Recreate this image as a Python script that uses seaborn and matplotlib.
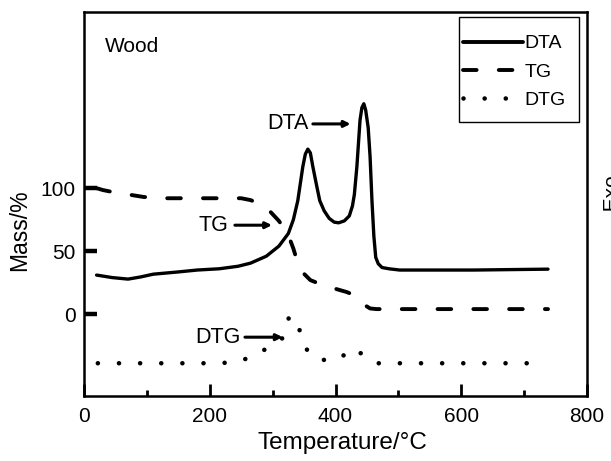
import matplotlib
matplotlib.use("Agg")
import matplotlib.pyplot as plt
import seaborn as sns
import pandas as pd
from matplotlib.lines import Line2D
from matplotlib.patches import Rectangle

# ---- data ----
DTA_T = [20, 45, 70, 90, 110, 150, 180, 215, 245, 265, 290, 310, 325, 333, 340,
         348, 352, 356, 360, 364, 370, 375, 382, 390, 398, 405, 414, 422, 427, 430,
         434, 439, 442, 445, 448, 452, 455, 458, 461, 464, 468, 474, 485, 502, 550,
         620, 738]
DTA_V = [31, 29, 27.8, 29.5, 31.7, 33.5, 35, 36, 38, 40.5, 46, 54, 64, 75, 90,
         117, 127, 131, 128, 117, 102, 90, 82, 76, 73, 72.5, 74, 78, 86, 95,
         117, 154, 164, 167, 162, 148, 125, 90, 62, 45, 40, 37, 36, 35, 35,
         35, 35.7]

TG_T = [20, 30, 45, 70, 95, 125, 150, 180, 232, 250, 265, 280, 295, 310, 324,
        333, 340, 350, 360, 375, 391, 418, 430, 440, 447, 455, 465, 738]
TG_V = [100, 98.5, 97, 95, 93, 92, 92, 92, 92, 92, 90.5, 87.5, 82, 74, 64,
        52, 40.5, 32, 27, 24, 21.4, 17.5, 15, 11, 7, 4.5, 4, 4]

DTG_T = [22, 60, 100, 150, 184, 219, 253, 286, 316, 322, 326, 333, 339, 347, 358,
         369, 385, 402, 415, 428, 440, 452, 464, 500, 600, 720]
DTG_V = [-39, -39, -39, -39, -39, -39, -36.5, -28.6, -19, -10, -2.4, -3, -4, -22, -31,
         -35.7, -36.5, -36.5, -32, -27, -31, -35, -39, -39, -39, -39]

X_TICKS = [0, 200, 400, 600, 800]
X_MINOR = [100, 300, 500, 700]
Y_TICKS = [0, 50, 100]

sns.set_theme(style="white")
plt.rcParams["font.family"] = ["Liberation Sans", "DejaVu Sans"]
plt.rcParams["text.color"] = "black"
plt.rcParams["axes.labelcolor"] = "black"
plt.rcParams["xtick.color"] = "black"
plt.rcParams["ytick.color"] = "black"

fig = plt.figure(figsize=(6.11, 4.61), dpi=100)
ax = fig.add_axes([0.1375, 0.141, 0.8232, 0.832])

df_dta = pd.DataFrame({"T": DTA_T, "v": DTA_V})
df_tg = pd.DataFrame({"T": TG_T, "v": TG_V})
df_dtg = pd.DataFrame({"T": DTG_T, "v": DTG_V})

TG_LS = (0, (3.5, 5.7))
DTG_LS = (0, (0.01, 4.6))

sns.lineplot(data=df_dta, x="T", y="v", ax=ax, color="black", lw=2.4,
             sort=False, solid_capstyle="round")
sns.lineplot(data=df_tg, x="T", y="v", ax=ax, color="black", lw=2.8,
             sort=False, linestyle=TG_LS, dash_capstyle="round")
sns.lineplot(data=df_dtg, x="T", y="v", ax=ax, color="black", lw=3.3,
             sort=False, linestyle=DTG_LS, dash_capstyle="round")

ax.set_xlim(0, 800)
ax.set_ylim(-65, 239.5)
ax.set_xticks(X_TICKS)
ax.set_xticks(X_MINOR, minor=True)
ax.set_yticks(Y_TICKS)
ax.tick_params(axis="x", which="major", direction="in", length=8.5, width=2,
               labelsize=15, pad=8, bottom=True)
ax.tick_params(axis="x", which="minor", direction="in", length=4.5, width=2,
               bottom=True)
ax.tick_params(axis="y", which="major", direction="in", length=9.5, width=3.2,
               labelsize=15, pad=6, left=True)
for s in ax.spines.values():
    s.set_linewidth(1.8)
    s.set_color("black")

ax.set_xlabel("Temperature/°C", fontsize=17.5, labelpad=3)
ax.xaxis.set_label_coords(0.513, -0.095)
ax.set_ylabel("Mass/%", fontsize=16.5, labelpad=4)
ax.yaxis.set_label_coords(-0.105, 0.433)

ax.text(0.042, 0.912, "Wood", transform=ax.transAxes, fontsize=15,
        ha="left", va="center")

arrow_kw = dict(arrowstyle="-|>", lw=2.2, color="black", mutation_scale=9,
                shrinkA=0, shrinkB=0)
ax.annotate("", xy=(424, 151), xytext=(364, 151), arrowprops=arrow_kw)
ax.text(357, 151, "DTA", fontsize=15.5, ha="right", va="center")
ax.annotate("", xy=(299, 70.6), xytext=(240, 70.6), arrowprops=arrow_kw)
ax.text(229, 70.6, "TG", fontsize=15.5, ha="right", va="center")
ax.annotate("", xy=(316, -18.3), xytext=(256, -18.3), arrowprops=arrow_kw)
ax.text(249, -18.3, "DTG", fontsize=15.5, ha="right", va="center")

handles = [
    Line2D([0], [0], color="black", lw=2.8, solid_capstyle="round"),
    Line2D([0], [0], color="black", lw=2.8, linestyle=TG_LS,
           dash_capstyle="round"),
    Line2D([0], [0], color="black", lw=3.3, linestyle=DTG_LS,
           dash_capstyle="round"),
]
leg = ax.legend(handles, ["DTA", "TG", "DTG"], loc="center left",
                bbox_to_anchor=(0.7535, 0.845), borderaxespad=0,
                fontsize=14, handlelength=3.1, handletextpad=0.05,
                labelspacing=0.55, frameon=False, borderpad=0)
# legend frame, drawn as a plain square box
ax.add_patch(Rectangle((0.7455, 0.714), 0.2386, 0.274, transform=ax.transAxes,
                       fill=False, edgecolor="black", lw=1.0, zorder=5))

# clipped right-side label remnant (cut off at the figure edge as in the source)
fig.text(603 / 611, 1 - 190 / 461, "← Exo  →", rotation=90, fontsize=15,
         ha="left", va="center")

fig.savefig("out.png", dpi=100)
